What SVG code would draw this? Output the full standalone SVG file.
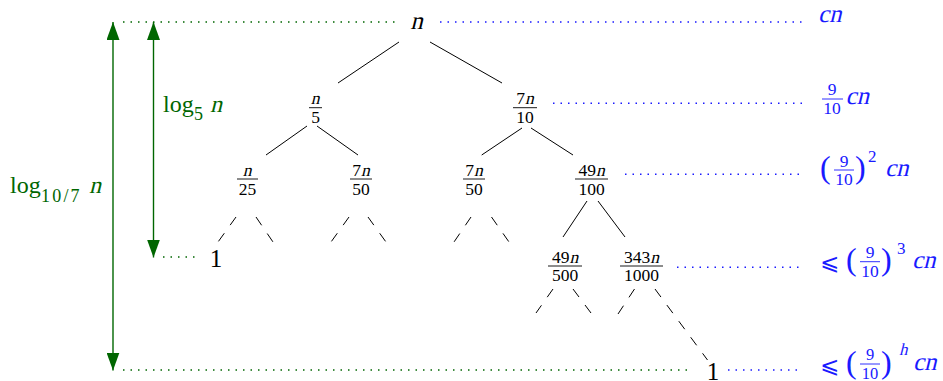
<svg xmlns="http://www.w3.org/2000/svg" width="943" height="381" viewBox="0 0 943 381">
<defs>
<style>
text{font-family:"Liberation Serif",serif;}
.m{font-size:25px}
.f{font-size:17.5px}
.c{text-anchor:middle}
.bar{stroke:#000;stroke-width:0.9}
.edge{stroke:#000;stroke-width:1;fill:none}
.dash{stroke:#000;stroke-width:1;stroke-dasharray:10 10;fill:none}
.gdot{stroke:#006600;stroke-width:1.5;stroke-dasharray:1.5 6;fill:none}
.bdot{stroke:#1a1aff;stroke-width:1.5;stroke-dasharray:1.5 6;fill:none}
.arr{stroke:#006600;stroke-width:1.4;fill:none;marker-start:url(#ah);marker-end:url(#ah)}
.g{fill:#006600}
.b{fill:#1a1aff}
.bbar{stroke:#1a1aff;stroke-width:0.9}
.p{font-size:32px}
.le{font-family:"DejaVu Sans",sans-serif;font-size:23px}
.s{font-size:17px}
.fs{font-size:16.5px}
</style>
<marker id="ah" markerUnits="userSpaceOnUse" markerWidth="18" markerHeight="13" refX="18" refY="6.5" orient="auto-start-reverse" viewBox="0 0 18 13"><path d="M0,0 L18,6.5 L0,13 z" fill="#006600"/></marker>
</defs>

<g id="guides">
<line class="gdot" x1="123" y1="22" x2="395" y2="22"/>
<line class="bdot" x1="440" y1="22" x2="802" y2="22"/>
<line class="bdot" x1="553" y1="103.3" x2="802" y2="103.3"/>
<line class="bdot" x1="625" y1="174.3" x2="802" y2="174.3"/>
<line class="gdot" x1="163" y1="257" x2="199" y2="257"/>
<line class="bdot" x1="677" y1="267.3" x2="802" y2="267.3"/>
<line class="gdot" x1="123" y1="370" x2="690" y2="370"/>
<line class="bdot" x1="728" y1="370" x2="802" y2="370"/>
</g>

<g id="height-arrows">
<line class="arr" x1="113" y1="22" x2="113" y2="370.5"/>
<line class="arr" x1="153.5" y1="22" x2="153.5" y2="257.5"/>
<text class="g" x="163" y="111.7" font-size="24">log</text>
<text class="g" x="194" y="120" font-size="18">5</text>
<text class="g" font-size="24" transform="translate(210,111.7) skewX(-14)">n</text>
<text class="g" x="10" y="193.3" font-size="24">log</text>
<text class="g" x="41" y="201.7" font-size="18" letter-spacing="2.2">10/7</text>
<text class="g" font-size="24" transform="translate(89,193.3) skewX(-14)">n</text>
</g>

<g id="connectors">
<line class="edge" x1="399" y1="42" x2="338" y2="83"/>
<line class="edge" x1="430" y1="42" x2="502" y2="83"/>
<line class="edge" x1="307" y1="126" x2="266" y2="155"/>
<line class="edge" x1="317" y1="126" x2="358" y2="155"/>
<line class="edge" x1="522" y1="128" x2="481.7" y2="155"/>
<line class="edge" x1="531" y1="128" x2="573" y2="155"/>
<line class="edge" x1="587" y1="201" x2="563" y2="237"/>
<line class="edge" x1="598" y1="201" x2="625" y2="237"/>
<line class="dash" x1="236" y1="217" x2="218" y2="242"/>
<line class="dash" x1="256" y1="217" x2="273" y2="242"/>
<line class="dash" x1="349" y1="217" x2="331" y2="242"/>
<line class="dash" x1="368" y1="217" x2="386" y2="242"/>
<line class="dash" x1="471" y1="217" x2="454" y2="242"/>
<line class="dash" x1="491.5" y1="217" x2="509" y2="242"/>
<line class="dash" x1="553" y1="289" x2="536" y2="313"/>
<line class="dash" x1="573" y1="289" x2="591" y2="313"/>
<line class="dash" x1="634.5" y1="289" x2="618" y2="314"/>
<line class="dash" x1="655" y1="289" x2="707.5" y2="360"/>
</g>

<g id="root"><text class="m c" font-size="26" transform="translate(416.5,29) skewX(-14)">n</text></g>

<g id="n5">
<text class="f c" transform="translate(315,104) skewX(-14)">n</text>
<line class="bar" x1="309" y1="107.7" x2="322" y2="107.7"/>
<text class="f c" x="315.5" y="122.5">5</text>
</g>
<g id="n7_10">
<text class="f" x="516.25" y="104">7</text><text class="f" transform="translate(525,104) skewX(-14)">n</text>
<line class="bar" x1="513" y1="107.7" x2="537" y2="107.7"/>
<text class="f c" x="525" y="122.5">10</text>
</g>

<g id="n25">
<text class="f c" transform="translate(247,175.5) skewX(-14)">n</text>
<line class="bar" x1="237" y1="179" x2="258" y2="179"/>
<text class="f c" x="247.5" y="194.5">25</text>
</g>
<g id="n7_50a">
<text class="f" x="352.25" y="175.5">7</text><text class="f" transform="translate(361,175.5) skewX(-14)">n</text>
<line class="bar" x1="350" y1="179" x2="372" y2="179"/>
<text class="f c" x="361" y="194.5">50</text>
</g>
<g id="n7_50b">
<text class="f" x="465.25" y="175.5">7</text><text class="f" transform="translate(474,175.5) skewX(-14)">n</text>
<line class="bar" x1="463" y1="179" x2="485" y2="179"/>
<text class="f c" x="474" y="194.5">50</text>
</g>
<g id="n49_100">
<text class="f" x="578.4" y="175.5">49</text><text class="f" transform="translate(595.9,175.5) skewX(-14)">n</text>
<line class="bar" x1="575" y1="179" x2="608" y2="179"/>
<text class="f c" x="591.5" y="194.5">100</text>
</g>

<g id="leaf1"><text class="m c" x="216" y="267">1</text></g>

<g id="n49_500">
<text class="f" x="551.9" y="262.5">49</text><text class="f" transform="translate(569.4,262.5) skewX(-14)">n</text>
<line class="bar" x1="548" y1="266" x2="582" y2="266"/>
<text class="f c" x="565" y="281">500</text>
</g>
<g id="n343_1000">
<text class="f" x="624" y="262.5">343</text><text class="f" transform="translate(650.25,262.5) skewX(-14)">n</text>
<line class="bar" x1="620" y1="266" x2="663" y2="266"/>
<text class="f c" x="641.5" y="281">1000</text>
</g>

<g id="leaf2"><text class="m c" x="713" y="379.5">1</text></g>

<g id="cost0"><text class="m b" transform="translate(818,22) skewX(-14)">cn</text></g>
<g id="cost1">
<text class="f c b" x="832" y="95">9</text>
<line class="bbar" x1="822" y1="99" x2="843" y2="99"/>
<text class="f c b" x="832" y="113.5">10</text>
<text class="m b" transform="translate(845.5,104) skewX(-14)">cn</text>
</g>
<g id="cost2">
<text class="p b" x="820" y="178">(</text>
<text class="f c b" x="844" y="166.7">9</text>
<line class="bbar" x1="834" y1="170" x2="854" y2="170"/>
<text class="f c b" x="844" y="185">10</text>
<text class="p b" x="855" y="178">)</text>
<text class="s b" x="868" y="161.7">2</text>
<text class="m b" transform="translate(885,176) skewX(-14)">cn</text>
</g>
<g id="cost3">
<text class="le b" x="820" y="269.5">⩽</text>
<text class="p b" x="846" y="270">(</text>
<text class="f c b" x="870" y="258">9</text>
<line class="bbar" x1="860" y1="261.7" x2="880" y2="261.7"/>
<text class="f c b" x="870" y="276.7">10</text>
<text class="p b" x="881" y="270">)</text>
<text class="s b" x="897" y="254">3</text>
<text class="m b" transform="translate(912,267.7) skewX(-14)">cn</text>
</g>
<g id="costh">
<text class="le b" x="820" y="372.5">⩽</text>
<text class="p b" x="846" y="373">(</text>
<text class="fs c b" x="870" y="360">9</text>
<line class="bbar" x1="860" y1="364" x2="880" y2="364"/>
<text class="fs c b" x="870" y="378.5">10</text>
<text class="p b" x="881" y="373">)</text>
<text class="s b" font-size="17" transform="translate(899,355) skewX(-14)">h</text>
<text class="m b" transform="translate(913,370) skewX(-14)">cn</text>
</g>
</svg>
